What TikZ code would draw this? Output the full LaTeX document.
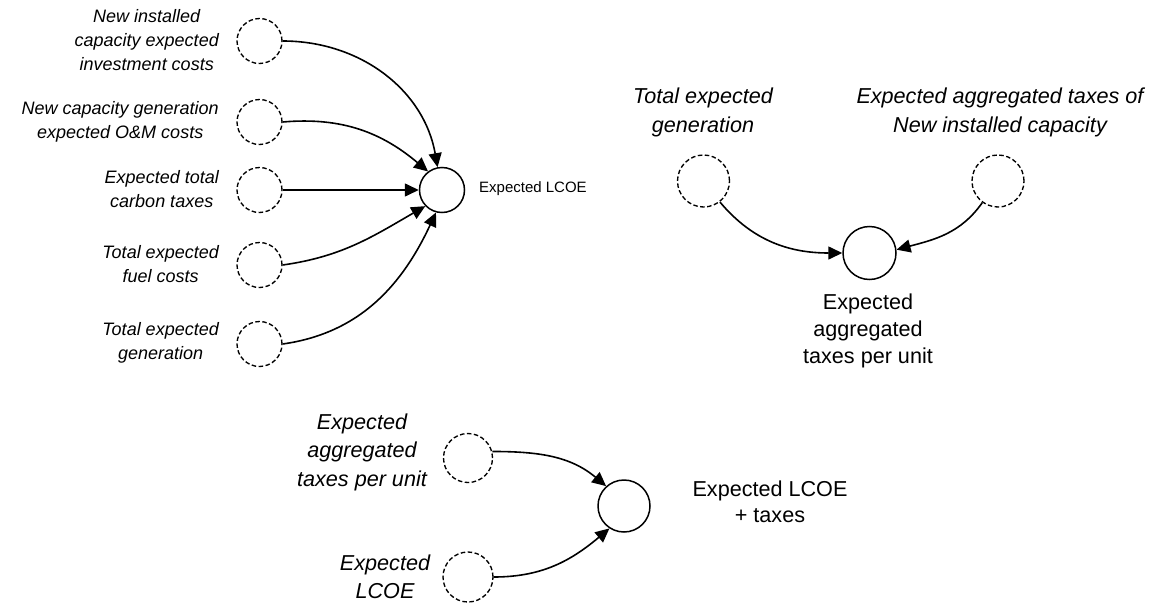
\documentclass[tikz,border=0pt]{standalone}
\usepackage{fontspec}
\setmainfont{Liberation Sans}
\usetikzlibrary{arrows.meta}
\begin{document}
\begin{tikzpicture}[x=1pt,y=-1pt,
  input/.style={circle,draw,dash pattern=on 4.5pt off 2.5pt,line width=1.35pt,inner sep=0pt},
  output/.style={circle,draw,line width=1.5pt,inner sep=0pt},
  conn/.style={line width=1.6pt,-{Triangle[length=14pt,width=13pt]}},
  small/.style={inner sep=0pt,align=center,font=\fontsize{18}{24}\selectfont\itshape},
  big/.style={inner sep=0pt,align=center,font=\fontsize{21.6}{28.5}\selectfont\itshape},
  bigup/.style={inner sep=0pt,align=center,font=\fontsize{21.6}{27}\selectfont},
]
\useasboundingbox (0,0) rectangle (1154,608);

% Expected LCOE and its five inputs
\node[input,minimum size=45pt] (a1) at (259.5,41) {};
\node[input,minimum size=45pt] (a2) at (259.5,122) {};
\node[input,minimum size=45pt] (a3) at (259.5,190) {};
\node[input,minimum size=45pt] (a4) at (259.5,265) {};
\node[input,minimum size=45pt] (a5) at (259.5,344) {};
\node[output,minimum size=45pt] (L) at (442,190) {};

\node[small,anchor=east] (la1) at (219,40) {New installed\\capacity expected\\investment costs};
\node[small,anchor=east] (la2) at (219,122) {New capacity generation\\expected O\&M costs};
\node[small,anchor=east] (la3) at (219,189) {Expected total\\carbon taxes};
\node[small,anchor=east] (la4) at (219,264) {Total expected\\fuel costs};
\node[small,anchor=east] (la5) at (219,343) {Total expected\\generation};
\node[inner sep=0pt,anchor=west,font=\fontsize{15}{18}\selectfont] (lL) at (479,189) {Expected LCOE};

\draw[conn] (a1.east) to[out=0,in=100] (L.101);
\draw[conn] (a2.east) to[out=5,in=140] (L.127);
\draw[conn] (a3.east) -- (L.west);
\draw[conn] (a4.east) to[out=8,in=210] (L.224);
\draw[conn] (a5.east) to[out=8,in=245] (L.255);

% Expected aggregated taxes per unit
\node[input,minimum size=52pt] (g) at (703.5,181) {};
\node[input,minimum size=52pt] (k) at (998,181) {};
\node[output,minimum size=53pt] (S) at (869.5,253) {};

\node[big] (lg) at (703,112.5) {Total expected\\generation};
\node[big] (lk) at (1000,112.5) {Expected aggregated taxes of\\New installed capacity};
\node[bigup] (lS) at (868,331) {Expected\\aggregated\\taxes per unit};

\draw[conn] (g.-52) to[out=-50,in=180] (S.west);
\draw[conn] (k.-126) to[out=-125,in=15] (S.7);

% Expected LCOE + taxes
\node[input,minimum size=49pt] (p) at (468,458) {};
\node[input,minimum size=50pt] (q) at (468,577) {};
\node[output,minimum size=52pt] (T) at (624,506) {};

\node[big] (lp) at (362,452) {Expected\\aggregated\\taxes per unit};
\node[big] (lq) at (385,577) {Expected\\LCOE};
\node[inner sep=0pt,align=center,font=\fontsize{21.6}{26}\selectfont] (lT) at (770,502) {Expected LCOE\\+ taxes};

\draw[conn] (p.15) to[out=0,in=140] (T.132);
\draw[conn] (q.east) to[out=0,in=220] (T.237);
\end{tikzpicture}
\end{document}
